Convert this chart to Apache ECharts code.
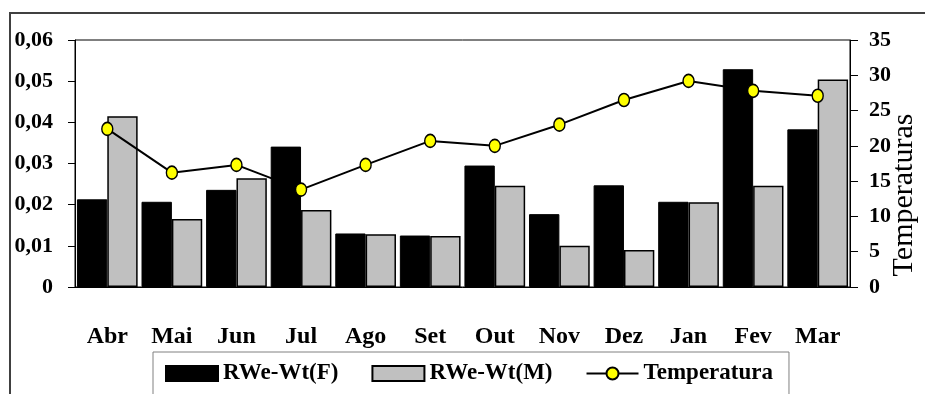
<!DOCTYPE html>
<html>
<head>
<meta charset="utf-8">
<script src="https://cdn.jsdelivr.net/npm/echarts@6/dist/echarts.min.js"></script>
<style>
  html, body { margin: 0; padding: 0; background: #fff; }
  #chart { width: 925px; height: 394px; }
</style>
</head>
<body>
<div id="chart"></div>
<script>
var meses = ['Abr', 'Mai', 'Jun', 'Jul', 'Ago', 'Set', 'Out', 'Nov', 'Dez', 'Jan', 'Fev', 'Mar']
var rweF = [0.0213, 0.0207, 0.0236, 0.0341, 0.0130, 0.0125, 0.0295, 0.0177, 0.0247, 0.0207, 0.0529, 0.0383]
var rweM = [0.0415, 0.0165, 0.0264, 0.0187, 0.0128, 0.0124, 0.0246, 0.0100, 0.0090, 0.0206, 0.0246, 0.0504]
var temperatura = [22.4, 16.2, 17.3, 13.8, 17.3, 20.7, 20.0, 23.0, 26.5, 29.2, 27.8, 27.1]

var serif = "'Liberation Serif', 'Times New Roman', serif"

var myChart = echarts.init(document.getElementById('chart'))
var option = {
  animation: false,
  grid: {
    left: 75,
    right: 75,
    top: 40,
    bottom: 107,
    outerBoundsMode: 'none',
    show: true,
    borderColor: '#000',
    borderWidth: 1
  },
  graphic: [{
    type: 'rect',
    shape: {x: 10, y: 13, width: 1000, height: 500},
    style: {fill: 'none', stroke: '#404040', lineWidth: 2},
    silent: true
  }, {
    // titulo do eixo direito
    type: 'text',
    x: 904,
    y: 195,
    rotation: Math.PI / 2,
    style: {
      text: 'Temperaturas',
      font: '30px ' + serif,
      fill: '#000',
      align: 'center',
      verticalAlign: 'middle'
    },
    silent: true
  }],
  legend: {
    left: 153,
    top: 352,
    padding: [10, 16, 40, 12],
    borderColor: '#808080',
    borderWidth: 1,
    itemWidth: 52,
    itemHeight: 15,
    itemGap: 33,
    textStyle: {
      fontFamily: serif,
      fontWeight: 'bold',
      fontSize: 23,
      color: '#000'
    },
    data: [
      {name: 'RWe-Wt(F)', icon: 'rect'},
      {name: 'RWe-Wt(M)', icon: 'rect'},
      'Temperatura'
    ]
  },
  xAxis: {
    type: 'category',
    data: meses,
    axisLine: {lineStyle: {color: '#000', width: 1}},
    axisTick: {length: 10, lineStyle: {color: '#808080'}},
    axisLabel: {
      margin: 38,
      fontFamily: serif,
      fontWeight: 'bold',
      fontSize: 24,
      color: '#000'
    }
  },
  yAxis: [{
    type: 'value',
    min: 0,
    max: 0.06,
    interval: 0.01,
    splitLine: {show: false},
    axisLine: {show: true, lineStyle: {color: '#000'}},
    axisTick: {show: true, length: 7, lineStyle: {color: '#000'}},
    axisLabel: {
      margin: 22,
      fontFamily: serif,
      fontWeight: 'bold',
      fontSize: 22,
      color: '#000',
      formatter: function(v) {
        return v === 0 ? '0' : v.toFixed(2).replace('.', ',')
      }
    }
  }, {
    type: 'value',
    min: 0,
    max: 35,
    interval: 5,
    splitLine: {show: false},
    axisLine: {show: true, lineStyle: {color: '#000'}},
    axisTick: {show: true, length: 8, lineStyle: {color: '#000'}},
    axisLabel: {
      margin: 19,
      fontFamily: serif,
      fontWeight: 'bold',
      fontSize: 22,
      color: '#000'
    }
  }],
  series: [{
    name: 'RWe-Wt(F)',
    type: 'bar',
    data: rweF,
    barCategoryGap: '6%',
    barGap: '0%',
    itemStyle: {color: '#000', borderColor: '#000', borderWidth: 1}
  }, {
    name: 'RWe-Wt(M)',
    type: 'bar',
    data: rweM,
    itemStyle: {color: '#c0c0c0', borderColor: '#000', borderWidth: 1.5}
  }, {
    name: 'Temperatura',
    type: 'line',
    yAxisIndex: 1,
    data: temperatura,
    symbol: 'circle',
    symbolSize: [11, 13],
    z: 10,
    lineStyle: {color: '#000', width: 2},
    itemStyle: {color: '#ffff00', borderColor: '#000', borderWidth: 1.5}
  }]
}
myChart.setOption(option)
</script>
</body>
</html>
